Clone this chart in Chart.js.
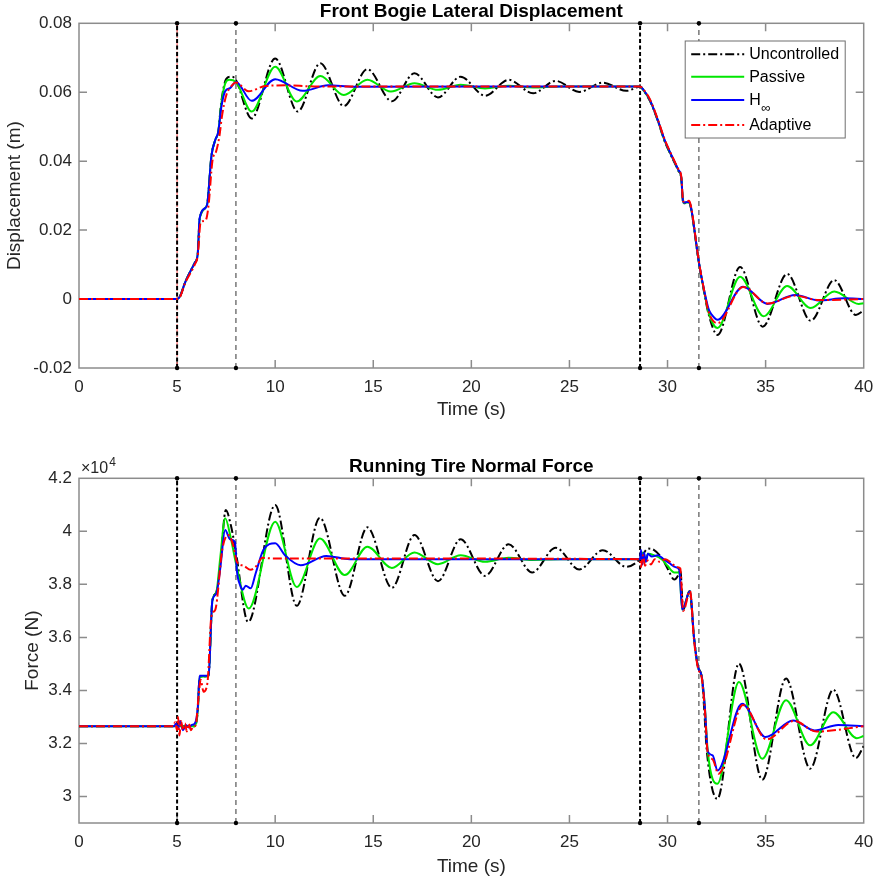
<!DOCTYPE html>
<html lang="en">
<head>
<meta charset="UTF-8">
<title>Front Bogie Lateral Displacement / Running Tire Normal Force</title>
<script src="https://cdn.jsdelivr.net/npm/chart.js"></script>
<style>
    html, body { margin: 0; padding: 0; background: #fff; }
    .panel { position: absolute; left: 0; }
    .panel canvas { display: block; }
    #disp-panel { top: 0; }
    #force-panel { top: 440px; }
</style>
</head>
<body>
<div class="panel" id="disp-panel"><canvas id="disp-chart" width="877" height="440"></canvas></div>
<div class="panel" id="force-panel"><canvas id="force-chart" width="877" height="442"></canvas></div>

<script>
// ---------- data ----------
const timeLimits = [0, 40];
const timeTicks = [0, 5, 10, 15, 20, 25, 30, 35, 40];
const dispLimits = [-0.02, 0.08];
const dispTicks = [-0.02, 0, 0.02, 0.04, 0.06, 0.08];
const forceLimits = [29000, 42000];
const forceTicks = [30000, 32000, 34000, 36000, 38000, 40000, 42000];

// switching instants (vertical markers)
const eventTimes = [5, 8, 28.6, 31.6];

const seriesNames = ['Uncontrolled', 'Passive', 'H∞', 'Adaptive'];

// front bogie lateral displacement (m)
const dispUncT = [0, 5, 5.15, 5.4, 5.9, 6.05, 6.15, 6.45, 6.55, 6.75, 6.95, 7.1, 7.25, 7.5, 7.75, 7.95, 8.8, 10.0, 11.15, 12.3, 13.5, 14.7, 15.95, 17.1, 18.3, 19.45, 20.7, 21.9, 23.15, 24.3, 25.5, 26.7, 27.9, 28.6, 28.8, 29.1, 29.5, 29.85, 30.15, 30.55, 30.7, 30.8, 31.1, 31.2, 31.6, 31.85, 32.1, 32.55, 33.7, 34.85, 36.1, 37.3, 38.5, 39.6, 40];
const dispUnc = [0, 0, 0.0008, 0.0047, 0.0105, 0.013, 0.0232, 0.0265, 0.028, 0.0415, 0.0462, 0.0485, 0.057, 0.0638, 0.0645, 0.0640, 0.0524, 0.0698, 0.0544, 0.0684, 0.0560, 0.0667, 0.0574, 0.0655, 0.0585, 0.0645, 0.0590, 0.0636, 0.0597, 0.0633, 0.0601, 0.0628, 0.0604, 0.0616, 0.0603, 0.0575, 0.0518, 0.0458, 0.0420, 0.0372, 0.0350, 0.0278, 0.0280, 0.0262, 0.0105, 0.0025, -0.0045, -0.0104, 0.0093, -0.0080, 0.0073, -0.0063, 0.0055, -0.0046, -0.0033];

const dispPasT = [0, 5, 5.15, 5.4, 5.9, 6.05, 6.15, 6.45, 6.55, 6.75, 6.95, 7.1, 7.25, 7.45, 7.65, 8.0, 8.8, 10.0, 11.1, 12.3, 13.5, 14.7, 15.9, 17.1, 18.3, 19.45, 20.7, 21.9, 23.15, 24.5, 28.6, 28.8, 29.1, 29.5, 29.85, 30.15, 30.55, 30.7, 30.8, 31.1, 31.2, 31.6, 31.85, 32.1, 32.55, 33.7, 34.9, 36.1, 37.3, 38.5, 39.75, 40];
const dispPas = [0, 0, 0.0008, 0.0047, 0.0105, 0.013, 0.0232, 0.0265, 0.028, 0.0415, 0.0462, 0.0485, 0.0565, 0.0625, 0.0636, 0.0630, 0.0544, 0.0674, 0.0573, 0.0647, 0.0592, 0.0636, 0.0602, 0.0626, 0.0607, 0.0622, 0.0611, 0.0619, 0.0614, 0.0617, 0.0617, 0.0604, 0.0577, 0.0519, 0.0460, 0.0422, 0.0374, 0.0352, 0.0279, 0.0281, 0.0264, 0.0105, 0.0028, -0.0040, -0.0084, 0.0065, -0.0050, 0.0038, -0.0026, 0.0022, -0.0014, -0.0012];

const dispHinfT = [0, 5, 5.15, 5.4, 5.9, 6.05, 6.15, 6.45, 6.55, 6.75, 6.95, 7.1, 7.25, 7.45, 7.7, 8.0, 8.8, 10.0, 11.4, 12.7, 14.0, 28.6, 28.8, 29.1, 29.5, 29.85, 30.15, 30.55, 30.7, 30.8, 31.1, 31.2, 31.6, 31.85, 32.1, 32.25, 32.55, 33.85, 35.1, 36.5, 37.7, 39.0, 40];
const dispHinf = [0, 0, 0.0008, 0.0047, 0.0105, 0.013, 0.0235, 0.0265, 0.028, 0.0415, 0.0462, 0.0485, 0.0555, 0.0603, 0.0612, 0.0630, 0.0575, 0.0638, 0.0604, 0.0620, 0.0616, 0.0617, 0.0605, 0.0578, 0.0520, 0.0462, 0.0423, 0.0375, 0.0353, 0.0280, 0.0282, 0.0265, 0.0106, 0.0030, -0.0030, -0.0045, -0.0060, 0.0036, -0.0014, 0.0012, -0.0004, 0.0002, 0.0000];

const dispAdaT = [0, 5, 5.15, 5.4, 5.9, 6.05, 6.2, 6.45, 6.6, 6.8, 7.0, 7.15, 7.3, 7.5, 7.8, 8.0, 8.65, 9.5, 10.5, 12.0, 28.6, 28.8, 29.1, 29.5, 29.85, 30.15, 30.55, 30.7, 30.8, 31.1, 31.2, 31.6, 31.85, 32.1, 32.55, 33.85, 35.1, 36.5, 37.7, 40];
const dispAda = [0, 0, 0.0006, 0.0045, 0.0100, 0.0125, 0.0222, 0.0228, 0.0270, 0.0400, 0.0430, 0.0470, 0.0535, 0.0590, 0.0620, 0.0628, 0.0603, 0.0618, 0.0620, 0.0617, 0.0617, 0.0606, 0.0580, 0.0522, 0.0464, 0.0425, 0.0377, 0.0356, 0.0283, 0.0285, 0.0268, 0.0108, 0.0030, -0.0038, -0.0070, 0.0035, -0.0013, 0.0010, -0.0003, 0.0000];

// running tire normal force (N)
const forceUncT = [0, 5.9, 6.05, 6.15, 6.6, 6.8, 7.0, 7.2, 7.48, 7.75, 8.0, 8.62, 10.0, 11.1, 12.28, 13.55, 14.7, 15.95, 17.1, 18.3, 19.45, 20.7, 21.9, 23.1, 24.3, 25.5, 26.7, 27.9, 28.6, 29.0, 29.3, 29.7, 30.0, 30.35, 30.55, 30.65, 30.8, 31.12, 31.35, 31.55, 31.75, 31.86, 32.0, 32.54, 33.64, 34.83, 36.04, 37.27, 38.45, 39.6, 40];
const forceUnc = [32650, 32650, 33200, 34500, 34550, 37400, 37700, 38700, 40800, 40200, 39200, 36580, 40990, 37190, 40510, 37570, 40150, 37870, 39860, 38120, 39700, 38320, 39510, 38450, 39380, 38560, 39290, 38660, 38950, 39350, 39300, 39000, 38600, 38180, 38350, 38550, 37050, 37750, 36000, 34900, 34500, 33400, 31740, 29910, 35010, 30630, 34450, 31050, 34030, 31450, 31900];

const forcePasT = [0, 5.9, 6.05, 6.15, 6.6, 6.8, 7.0, 7.2, 7.45, 7.75, 8.0, 8.65, 10.0, 11.1, 12.28, 13.55, 14.7, 15.95, 17.1, 18.3, 19.45, 20.7, 21.9, 23.1, 24.5, 28.6, 28.7, 28.85, 29.0, 29.3, 29.7, 30.0, 30.35, 30.6, 30.75, 31.15, 31.35, 31.55, 31.75, 31.9, 32.05, 32.54, 33.64, 34.83, 36.04, 37.27, 38.45, 39.65, 40];
const forcePas = [32650, 32650, 33200, 34500, 34550, 37400, 37700, 39000, 40490, 39700, 38800, 37090, 40360, 37900, 39730, 38350, 39420, 38620, 39200, 38760, 39100, 38850, 39000, 38920, 38950, 38950, 39200, 38850, 39150, 39100, 38950, 38700, 38450, 38450, 37050, 37750, 36000, 34900, 34500, 33400, 31700, 30480, 34320, 31420, 33630, 31930, 33180, 32200, 32280];

const forceHinfT = [0, 4.85, 4.95, 5.05, 5.15, 5.3, 5.45, 5.6, 5.75, 5.9, 6.05, 6.15, 6.6, 6.8, 7.0, 7.2, 7.45, 7.7, 7.95, 8.05, 8.2, 8.35, 8.5, 8.75, 9.0, 9.4, 10.0, 10.5, 11.3, 12.6, 13.8, 28.6, 28.65, 28.72, 28.8, 28.9, 29.0, 29.2, 29.5, 29.8, 30.1, 30.4, 30.6, 30.75, 31.15, 31.35, 31.55, 31.75, 31.9, 32.05, 32.3, 32.55, 33.8, 35.0, 36.4, 37.5, 38.7, 40];
const forceHinf = [32650, 32650, 32750, 32550, 32850, 32500, 32700, 32600, 32700, 32750, 33300, 34550, 34550, 37400, 37650, 38600, 40050, 39700, 39600, 38500, 38000, 37800, 37950, 37850, 38400, 39300, 39550, 39100, 38720, 39070, 38950, 38950, 39300, 38750, 39200, 38850, 39150, 39050, 39100, 38950, 38800, 38650, 38550, 37050, 37750, 36000, 34900, 34500, 33400, 31700, 31550, 30980, 33500, 32240, 32870, 32490, 32700, 32650];

const forceAdaT = [0, 4.8, 4.9, 5.0, 5.05, 5.12, 5.2, 5.3, 5.4, 5.5, 5.6, 5.7, 5.8, 5.95, 6.1, 6.2, 6.35, 6.55, 6.75, 6.95, 7.3, 7.6, 7.85, 8.05, 8.4, 8.75, 9.05, 9.35, 9.8, 28.6, 28.65, 28.75, 28.85, 29.0, 29.15, 29.35, 29.6, 29.9, 30.2, 30.5, 30.65, 30.8, 31.15, 31.35, 31.55, 31.75, 31.9, 32.05, 32.3, 32.6, 33.85, 35.05, 36.45, 37.6, 40];
const forceAda = [32650, 32650, 32800, 32500, 33000, 32300, 32850, 32500, 32750, 32450, 32750, 32500, 32600, 32700, 33800, 34400, 33950, 34300, 36800, 37050, 39300, 39860, 39500, 38850, 38700, 38550, 38700, 39000, 38980, 38950, 38650, 39100, 38700, 38900, 38750, 38950, 38850, 38950, 38800, 38650, 38600, 37000, 37750, 35900, 34850, 34450, 33300, 31650, 31400, 30860, 33450, 32150, 32850, 32450, 32650];

// ---------- styling ----------
const FONT = "'Liberation Sans', Arial, Helvetica, sans-serif";
const INK = '#262626';
const SPINE = '#8c8c8c';
const TICK_LEN = 8;

const seriesColors = ['#000000', '#00e600', '#0000ff', '#ff0000'];
const seriesDashes = [[9, 3, 2, 3], [], [], [9, 3, 2, 3]];
const eventThick = [true, false, true, false];

function points(t, v) {
    return t.map((x, i) => ({ x: x, y: v[i] }));
}

function seriesSets(pairs) {
    return seriesNames.map((name, i) => ({
        label: name,
        data: points(pairs[i][0], pairs[i][1]),
        borderColor: seriesColors[i],
        borderWidth: 2,
        borderDash: seriesDashes[i],
        pointRadius: 0,
        cubicInterpolationMode: 'monotone',
        order: seriesNames.length - i   // adaptive ends up on top
    }));
}

function eventSets(limits, withRed) {
    const sets = eventTimes.map((t, i) => ({
        label: 'event',
        data: [{ x: t, y: limits[0] }, { x: t, y: limits[1] }],
        borderColor: eventThick[i] ? '#000' : '#333',
        borderWidth: eventThick[i] ? 2 : 1,
        borderDash: eventThick[i] ? [4, 2.5] : [5, 4],
        pointRadius: 2.2,
        pointBackgroundColor: '#000',
        pointBorderWidth: 0,
        clip: false,
        order: 20
    }));
    if (withRed) {
        sets.push({
            label: 'event',
            data: [{ x: eventTimes[0], y: limits[0] }, { x: eventTimes[0], y: limits[1] }],
            borderColor: 'rgba(255,0,0,0.7)',
            borderWidth: 1,
            borderDash: [6, 2, 1.5, 2],
            pointRadius: 0,
            order: 21
        });
    }
    return sets;
}

// box, inward ticks on all sides, legend and exponent label
const matlabAxes = {
    id: 'matlabAxes',
    beforeDatasetsDraw(chart) {
        const { ctx, chartArea: a, scales } = chart;
        ctx.save();
        ctx.strokeStyle = SPINE;
        ctx.lineWidth = 1.5;
        ctx.strokeRect(a.left, a.top, a.right - a.left, a.bottom - a.top);
        ctx.beginPath();
        scales.x.ticks.forEach(t => {
            const px = scales.x.getPixelForValue(t.value);
            if (px <= a.left + 1 || px >= a.right - 1) return;
            ctx.moveTo(px, a.bottom); ctx.lineTo(px, a.bottom - TICK_LEN);
            ctx.moveTo(px, a.top); ctx.lineTo(px, a.top + TICK_LEN);
        });
        scales.y.ticks.forEach(t => {
            const py = scales.y.getPixelForValue(t.value);
            if (py <= a.top + 1 || py >= a.bottom - 1) return;
            ctx.moveTo(a.left, py); ctx.lineTo(a.left + TICK_LEN, py);
            ctx.moveTo(a.right, py); ctx.lineTo(a.right - TICK_LEN, py);
        });
        ctx.stroke();
        ctx.restore();
    },
    afterDraw(chart, args, opts) {
        const { ctx, chartArea: a } = chart;
        ctx.save();
        if (opts.exponent) {
            ctx.fillStyle = INK;
            ctx.textBaseline = 'alphabetic';
            ctx.textAlign = 'left';
            ctx.font = '16px ' + FONT;
            const base = '\u00d710';
            ctx.fillText(base, a.left + 2, a.top - 5);
            const w = ctx.measureText(base).width;
            ctx.font = '12px ' + FONT;
            ctx.fillText(opts.exponent, a.left + 3 + w, a.top - 12);
        }
        if (opts.legend) {
            const x0 = a.right - 178.5, y0 = a.top + 17.7, w = 160, h = 97;
            const rows = [13.3, 35.7, 59, 84];
            ctx.fillStyle = '#fff';
            ctx.fillRect(x0, y0, w, h);
            ctx.strokeStyle = '#6e6e6e';
            ctx.lineWidth = 1;
            ctx.strokeRect(x0, y0, w, h);
            const sets = seriesNames.map(n => chart.data.datasets.find(d => d.label === n));
            sets.forEach((d, i) => {
                const y = y0 + rows[i];
                ctx.beginPath();
                ctx.setLineDash(d.borderDash || []);
                ctx.strokeStyle = d.borderColor;
                ctx.lineWidth = d.borderWidth;
                ctx.moveTo(x0 + 6, y);
                ctx.lineTo(x0 + 59, y);
                ctx.stroke();
                ctx.setLineDash([]);

                ctx.fillStyle = '#000';
                ctx.textAlign = 'left';
                ctx.textBaseline = 'middle';
                ctx.font = '16px ' + FONT;
                if (d.label === 'H∞') {
                    ctx.fillText('H', x0 + 64, y + 0.5);
                    const hw = ctx.measureText('H').width;
                    ctx.font = '13px ' + FONT;
                    ctx.fillText('\u221e', x0 + 64 + hw + 0.5, y + 8);
                } else {
                    ctx.fillText(d.label, x0 + 64, y + 0.5);
                }
            });
        }
        ctx.restore();
    }
};

function plotOptions(cfg) {
    return {
        responsive: false,
        animation: false,
        events: [],
        layout: { padding: { left: 0, right: 13.3, top: 0, bottom: 0 } },
        plugins: {
            legend: { display: false },
            tooltip: { enabled: false },
            title: {
                display: true,
                text: cfg.title,
                fullSize: false,
                color: '#000',
                font: { family: FONT, size: 19, weight: 'bold' },
                padding: cfg.titlePad
            },
            matlabAxes: { legend: cfg.legend, exponent: cfg.exponent }
        },
        scales: {
            x: {
                type: 'linear',
                min: timeLimits[0],
                max: timeLimits[1],
                grid: { display: false, drawTicks: false },
                border: { display: false },
                afterBuildTicks: s => { s.ticks = timeTicks.map(value => ({ value })); },
                afterFit: s => {
                    s.height = cfg.xHeight;
                    // edge labels may hang past the plot box
                    s.paddingLeft = 0;
                    s.paddingRight = 0;
                },
                ticks: {
                    color: INK,
                    font: { family: FONT, size: 17 },
                    padding: 9,
                    maxRotation: 0,
                    autoSkip: false
                },
                title: {
                    display: true,
                    text: 'Time (s)',
                    color: INK,
                    font: { family: FONT, size: 19 },
                    padding: { top: 0, bottom: cfg.xTitlePad }
                }
            },
            y: {
                type: 'linear',
                min: cfg.yLimits[0],
                max: cfg.yLimits[1],
                grid: { display: false, drawTicks: false },
                border: { display: false },
                afterBuildTicks: s => { s.ticks = cfg.yTicks.map(value => ({ value })); },
                afterFit: s => {
                    s.width = 79;
                    s.paddingTop = 0;
                    s.paddingBottom = 0;
                },
                ticks: {
                    color: INK,
                    font: { family: FONT, size: 17 },
                    padding: 7,
                    autoSkip: false,
                    callback: cfg.yFormat
                },
                title: {
                    display: true,
                    text: cfg.yTitle,
                    color: INK,
                    font: { family: FONT, size: 19 },
                    padding: { top: cfg.yTitlePad, bottom: 0 }
                }
            }
        }
    };
}

new Chart(document.getElementById('disp-chart'), {
    type: 'line',
    data: {
        datasets: [
            ...eventSets(dispLimits, true),
            ...seriesSets([[dispUncT, dispUnc], [dispPasT, dispPas], [dispHinfT, dispHinf], [dispAdaT, dispAda]])
        ]
    },
    options: plotOptions({
        title: 'Front Bogie Lateral Displacement',
        titlePad: { top: 0, bottom: 0.5 },
        xHeight: 72,
        xTitlePad: 18.6,
        yLimits: dispLimits,
        yTicks: dispTicks,
        yTitle: 'Displacement (m)',
        yTitlePad: 3.6,
        yFormat: v => (v === 0 ? '0' : v.toFixed(2)),
        legend: true,
        exponent: ''
    }),
    plugins: [matlabAxes]
});

new Chart(document.getElementById('force-chart'), {
    type: 'line',
    data: {
        datasets: [
            ...eventSets(forceLimits, false),
            ...seriesSets([[forceUncT, forceUnc], [forcePasT, forcePas], [forceHinfT, forceHinf], [forceAdaT, forceAda]])
        ]
    },
    options: plotOptions({
        title: 'Running Tire Normal Force',
        titlePad: { top: 15, bottom: 0.5 },
        xHeight: 59,
        xTitlePad: 4.1,
        yLimits: forceLimits,
        yTicks: forceTicks,
        yTitle: 'Force (N)',
        yTitlePad: 21,
        yFormat: v => String(+(v / 1e4).toFixed(1)),
        legend: false,
        exponent: '4'
    }),
    plugins: [matlabAxes]
});
</script>
</body>
</html>
